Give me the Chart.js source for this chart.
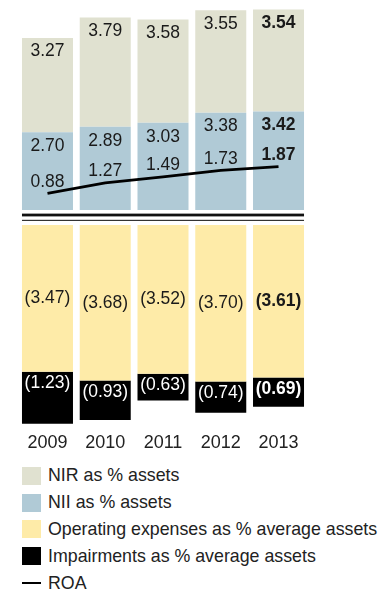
<!DOCTYPE html>
<html>
<head>
<meta charset="utf-8">
<title>Income and cost ratios 2009–2013</title>
<script src="https://cdn.jsdelivr.net/npm/chart.js@4.4.1/dist/chart.umd.min.js"></script>
<style>
  html, body { margin: 0; padding: 0; background: #fff; }
  body {
    width: 380px; height: 591px; position: relative; overflow: hidden;
    font-family: "Liberation Sans", Arial, Helvetica, sans-serif; color: #222;
  }
  #incomeChart { position: absolute; left: 0; top: 0; }
  #costChart { position: absolute; left: 0; top: 225px; }
  #legend { position: absolute; left: 22px; top: 462.5px; }
  .item { height: 26.8px; display: flex; align-items: center; font-size: 17.8px; white-space: nowrap; }
  .swatch { width: 19px; height: 18px; margin-right: 7px; flex: none; }
  .stroke { width: 19px; height: 2.6px; margin-right: 7px; flex: none; background: #000; }
</style>
</head>
<body>
<canvas id="incomeChart" width="380" height="225"></canvas>
<canvas id="costChart" width="380" height="237"></canvas>
<div id="legend"></div>

<script>
// Year categories
const years = ['2009', '2010', '2011', '2012', '2013'];

// Income side (% of assets)
const nirValues = [3.27, 3.79, 3.58, 3.55, 3.54];
const niiValues = [2.70, 2.89, 3.03, 3.38, 3.42];
const roaValues = [0.88, 1.27, 1.49, 1.73, 1.87];

// Cost side (% of average assets), shown as negatives
const opexValues = [-3.47, -3.68, -3.52, -3.70, -3.61];
const impairmentValues = [-1.23, -0.93, -0.63, -0.74, -0.69];

// Latest year is emphasised in bold
const highlightYear = '2013';

const colors = {
  nir: '#e0e1d0',
  nii: '#b0cad6',
  opex: '#feeba8',
  impairments: '#000000',
  roa: '#000000'
};

const FONT = '"Liberation Sans", Arial, Helvetica, sans-serif';
const SIDE_PADDING = { left: 18.6, right: 72.6 };
const BAR_WIDTH = { categoryPercentage: 1, barPercentage: 0.883 };

function formatValue(v) {
  return v < 0 ? '(' + Math.abs(v).toFixed(2) + ')' : v.toFixed(2);
}

// Writes each data value onto its bar segment or line point
const valueLabels = {
  id: 'valueLabels',
  afterDatasetsDraw(chart) {
    const ctx = chart.ctx;
    ctx.save();
    ctx.textAlign = 'center';
    ctx.textBaseline = 'middle';
    chart.data.datasets.forEach((ds, di) => {
      const place = ds.labelPlace;
      if (!place) return;
      const meta = chart.getDatasetMeta(di);
      meta.data.forEach((el, i) => {
        const v = ds.data[i];
        let y;
        if (place.mode === 'top') {
          y = Math.min(el.y, el.base) + place.offset;
        } else if (place.mode === 'middle') {
          y = (el.y + el.base) / 2;
        } else {
          y = el.y - place.offset;
        }
        const bold = chart.data.labels[i] === highlightYear;
        ctx.font = (bold ? 'bold ' : '') + '17.5px ' + FONT;
        ctx.fillStyle = place.color;
        ctx.fillText(formatValue(v), el.x, y);
      });
    });
    ctx.restore();
  }
};

// Double rule separating income from costs
const splitRule = {
  id: 'splitRule',
  afterDraw(chart) {
    const ctx = chart.ctx;
    const metas = chart.getSortedVisibleDatasetMetas().filter(m => m.type === 'bar');
    const first = metas[0].data[0];
    const last = metas[0].data[metas[0].data.length - 1];
    const x0 = first.x - first.width / 2;
    const x1 = last.x + last.width / 2;
    const base = chart.chartArea.bottom;
    ctx.save();
    ctx.fillStyle = '#bbbbbb';
    ctx.fillRect(x0, base + 3.2, x1 - x0, 1);
    ctx.fillStyle = '#111111';
    ctx.fillRect(x0, base + 3.8, x1 - x0, 2.6);
    ctx.fillStyle = '#333333';
    ctx.fillRect(x0, base + 9.8, x1 - x0, 1.2);
    ctx.restore();
  }
};

const incomeChart = new Chart(document.getElementById('incomeChart'), {
  type: 'bar',
  data: {
    labels: years,
    datasets: [
      {
        type: 'line',
        label: 'ROA',
        data: roaValues,
        yAxisID: 'yRoa',
        borderColor: colors.roa,
        borderWidth: 2.8,
        pointRadius: 0,
        tension: 0,
        order: 0,
        labelPlace: { mode: 'above', offset: 11.5, color: '#1a1a1a' }
      },
      {
        label: 'NII as % assets',
        data: niiValues,
        backgroundColor: colors.nii,
        stack: 'income',
        order: 1,
        ...BAR_WIDTH,
        labelPlace: { mode: 'top', offset: 14, color: '#1a1a1a' }
      },
      {
        label: 'NIR as % assets',
        data: nirValues,
        backgroundColor: colors.nir,
        stack: 'income',
        order: 1,
        ...BAR_WIDTH,
        labelPlace: { mode: 'top', offset: 13.5, color: '#1a1a1a' }
      }
    ]
  },
  options: {
    responsive: false,
    animation: false,
    layout: { padding: { left: SIDE_PADDING.left, right: SIDE_PADDING.right, top: 0, bottom: 15 } },
    plugins: { legend: { display: false }, tooltip: { enabled: false } },
    scales: {
      x: { display: false, stacked: true, offset: true },
      y: { display: false, stacked: true, min: 0, max: 7.29 },
      yRoa: { display: false, min: 0.26, max: 8.067 }
    }
  },
  plugins: [valueLabels, splitRule]
});

const costChart = new Chart(document.getElementById('costChart'), {
  type: 'bar',
  data: {
    labels: years,
    datasets: [
      {
        label: 'Operating expenses as % average assets',
        data: opexValues,
        backgroundColor: colors.opex,
        stack: 'cost',
        ...BAR_WIDTH,
        labelPlace: { mode: 'middle', offset: 0, color: '#1a1a1a' }
      },
      {
        label: 'Impairments as % average assets',
        data: impairmentValues,
        backgroundColor: colors.impairments,
        stack: 'cost',
        ...BAR_WIDTH,
        labelPlace: { mode: 'top', offset: 11.5, color: '#ffffff' }
      }
    ]
  },
  options: {
    responsive: false,
    animation: false,
    layout: { padding: { left: SIDE_PADDING.left, right: SIDE_PADDING.right, top: 0, bottom: 0 } },
    plugins: { legend: { display: false }, tooltip: { enabled: false } },
    scales: {
      x: {
        stacked: true,
        offset: true,
        grid: { display: false, drawTicks: false },
        border: { display: false },
        ticks: { color: '#222', padding: 8, font: { family: FONT, size: 18 } }
      },
      y: { display: false, stacked: true, min: -4.717, max: 0 }
    }
  },
  plugins: [valueLabels]
});

// Legend built from the two charts' datasets
(function buildLegend() {
  const legend = document.getElementById('legend');
  const byLabel = {};
  [incomeChart, costChart].forEach(c => c.data.datasets.forEach(ds => { byLabel[ds.label] = ds; }));
  const orderList = [
    'NIR as % assets',
    'NII as % assets',
    'Operating expenses as % average assets',
    'Impairments as % average assets',
    'ROA'
  ];
  orderList.forEach(name => {
    const ds = byLabel[name];
    const item = document.createElement('div');
    item.className = 'item';
    const mark = document.createElement('span');
    if (ds.type === 'line') {
      mark.className = 'stroke';
      mark.style.background = ds.borderColor;
    } else {
      mark.className = 'swatch';
      mark.style.background = ds.backgroundColor;
    }
    item.appendChild(mark);
    item.appendChild(document.createTextNode(name));
    legend.appendChild(item);
  });
})();
</script>
</body>
</html>
